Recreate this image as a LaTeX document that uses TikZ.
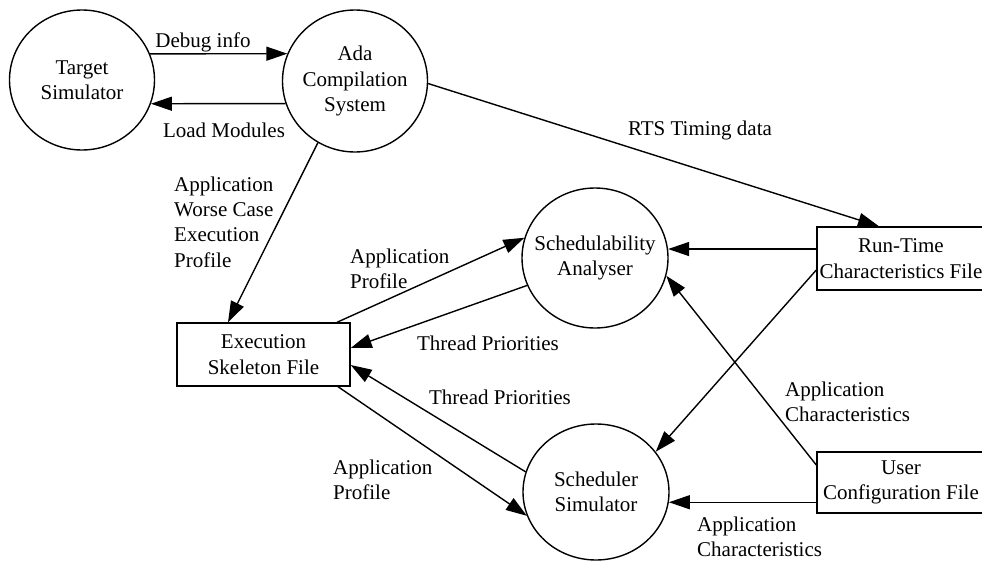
\documentclass[tikz,border=0pt]{standalone}
\usepackage{fontspec}
\setmainfont{Liberation Serif}
\usetikzlibrary{shapes.geometric,arrows.meta,calc}
\begin{document}
\begin{tikzpicture}[x=1pt,y=-1pt,
  every node/.style={font=\fontsize{21}{25.3}\selectfont},
  proc/.style={draw, ellipse, line width=1.4pt, inner sep=0pt},
  store/.style={draw, rectangle, line width=1.4pt, align=center, inner sep=2pt},
  flow/.style={line width=1.4pt, -{Triangle[length=21pt,width=14pt]}},
  lbl/.style={align=left, inner sep=0pt}]
\clip (0,0) rectangle (982,562);
% processes
\node[proc, minimum width=145pt, minimum height=140pt,
  label={[align=center]center:Target\\Simulator}] (tgt) at (82,80) {};
\node[proc, minimum width=145pt, minimum height=142pt,
  label={[align=center]center:Ada\\Compilation\\System}] (ada) at (355,81) {};
\node[proc, minimum width=146pt, minimum height=140pt,
  label={[align=center]center:Schedulability\\Analyser}] (sa) at (595,258) {};
\node[proc, minimum width=146pt, minimum height=136pt,
  label={[align=center]center:Scheduler\\Simulator}] (ss) at (596,492) {};
% stores
\node[store, minimum width=173pt, minimum height=63pt] (exec) at (263.5,354.5) {Execution\\Skeleton File};
\node[store, minimum width=168pt, minimum height=63pt] (rt) at (901,258.5) {Run-Time\\Characteristics File};
\node[store, minimum width=168pt, minimum height=61pt] (uc) at (901,482.5) {User\\Configuration File};
% flows
\draw[flow] (tgt.21) -- (ada.158);
\draw[flow] (ada.-162) -- (tgt.-19);
\draw[flow] (ada.-2) -- ([xshift=-22pt]rt.north);
\draw[flow] (ada.239) -- ([xshift=-35.5pt]exec.north);
\draw[flow] ([xshift=73.5pt]exec.north) -- (sa.164);
\draw[flow] (sa.202) -- ([yshift=6.5pt]exec.east);
\draw[flow] (ss.164) -- ([yshift=-10.5pt]exec.east);
\draw[flow] ([xshift=74.5pt]exec.south) -- (ss.199);
\draw[flow] (rt.west |- sa.7) -- (sa.7);
\draw[flow] ([yshift=-11.5pt]rt.west) -- (ss.34);
\draw[flow] ([yshift=17.5pt]uc.west) -- (sa.-14);
\draw[flow] (uc.west |- ss.-8) -- (ss.-8);
% labels
\node (l1) at (203,42) {Debug info};
\node (l2) at (224,130) {Load Modules};
\node (l3) at (700,130) {RTS Timing data};
\node[lbl, anchor=west] (l4) at (174,222) {Application\\Worse Case\\Execution\\Profile};
\node[lbl, anchor=west] (l5) at (350,269) {Application\\Profile};
\node (l6) at (488,343) {Thread Priorities};
\node (l7) at (500,397) {Thread Priorities};
\node[lbl, anchor=west] (l8) at (333,479.5) {Application\\Profile};
\node[lbl, anchor=west] (l9) at (785,402) {Application\\Characteristics};
\node[lbl, anchor=west] (l10) at (697,537) {Application\\Characteristics};
\end{tikzpicture}
\end{document}
